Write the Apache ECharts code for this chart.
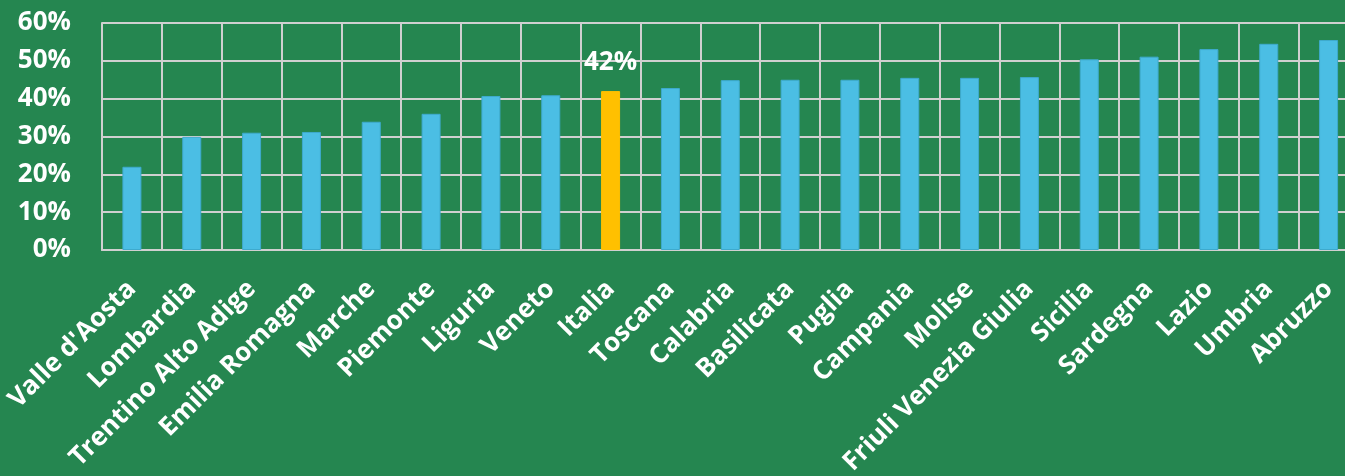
<!DOCTYPE html>
<html>
<head>
<meta charset="utf-8">
<script src="https://cdn.jsdelivr.net/npm/echarts@6/dist/echarts.min.js"></script>
<style>
html,body{margin:0;padding:0;background:#258650;}
#chart{width:1345px;height:476px;}
</style>
</head>
<body>
<div id="chart"></div>
<script>
const categories = ["Valle d'Aosta","Lombardia","Trentino Alto Adige","Emilia Romagna","Marche","Piemonte","Liguria","Veneto","Italia","Toscana","Calabria","Basilicata","Puglia","Campania","Molise","Friuli Venezia Giulia","Sicilia","Sardegna","Lazio","Umbria","Abruzzo"];
const values = [22.0,29.9,31.0,31.2,33.9,36.0,40.7,40.9,42.0,42.8,44.9,45.0,45.0,45.5,45.5,45.7,50.4,51.1,53.1,54.5,55.5];
const highlightCategory = "Italia";
const yTicks = {min:0, max:60, interval:10};

const FONT = "'Open Sans'";
const barBlue = '#4BBEE4';
const barYellow = '#FFC000';

const seriesData = categories.map((c, i) => {
  const isHi = c === highlightCategory;
  return {
    value: values[i],
    itemStyle: { color: isHi ? barYellow : barBlue, borderColor: isHi ? barYellow : '#3EAACD', borderWidth: 1 },
    label: isHi ? {
      show: true, position: 'top', distance: 16,
      formatter: p => Math.round(p.value) + '%',
      color: '#ffffff', fontFamily: FONT, fontWeight: 'bold', fontSize: 26
    } : { show: false }
  };
});

const chart = echarts.init(document.getElementById('chart'), null, {renderer:'canvas'});
chart.setOption({
  backgroundColor: '#258650',
  animation: false,
  grid: { left: 102, top: 23, bottom: 226, width: 1256.5, containLabel: false, outerBoundsMode: 'none' },
  xAxis: {
    type: 'category',
    data: categories,
    boundaryGap: true,
    axisLine: { show: true, lineStyle: { color: '#d0d0d0', width: 2 } },
    axisTick: { show: false },
    splitLine: { show: true, lineStyle: { color: '#d0d0d0', width: 2 } },
    axisLabel: {
      interval: 0, rotate: 45, margin: 35,
      color: '#ffffff', fontFamily: FONT, fontWeight: 'bold', fontSize: 26
    }
  },
  yAxis: {
    type: 'value',
    min: yTicks.min, max: yTicks.max, interval: yTicks.interval,
    axisLine: { show: true, lineStyle: { color: '#d0d0d0', width: 2 } },
    axisTick: { show: false },
    splitLine: { show: true, lineStyle: { color: '#d0d0d0', width: 2 } },
    axisLabel: {
      formatter: '{value}%', margin: 31,
      color: '#ffffff', fontFamily: FONT, fontWeight: 'bold', fontSize: 26
    }
  },
  series: [{
    type: 'bar',
    data: seriesData,
    barWidth: 19
  }]
});
</script>
</body>
</html>
